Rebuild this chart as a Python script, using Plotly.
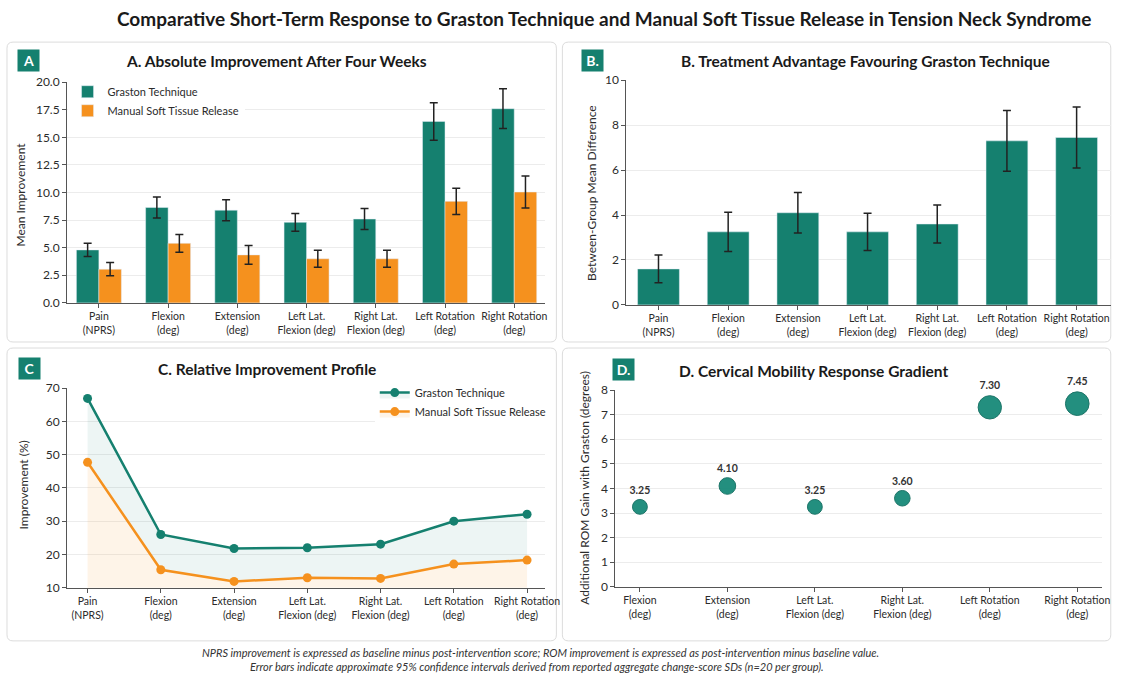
import plotly.graph_objects as go

# ---------------- data ----------------
categories = ["Pain<br>(NPRS)", "Flexion<br>(deg)", "Extension<br>(deg)",
              "Left Lat.<br>Flexion (deg)", "Right Lat.<br>Flexion (deg)",
              "Left Rotation<br>(deg)", "Right Rotation<br>(deg)"]
rom_categories = categories[1:]

graston_abs = [4.8, 8.65, 8.4, 7.3, 7.6, 16.45, 17.6]
graston_abs_ci = [0.6, 0.95, 0.95, 0.8, 0.95, 1.7, 1.8]
mstr_abs = [3.05, 5.4, 4.35, 4.0, 4.0, 9.2, 10.05]
mstr_abs_ci = [0.6, 0.8, 0.85, 0.78, 0.78, 1.2, 1.45]

diff = [1.6, 3.25, 4.1, 3.25, 3.6, 7.3, 7.45]
diff_ci = [0.62, 0.87, 0.9, 0.83, 0.85, 1.35, 1.36]

graston_pct = [66.9, 26.0, 21.8, 22.0, 23.1, 30.0, 32.1]
mstr_pct = [47.7, 15.4, 11.9, 13.0, 12.8, 17.1, 18.3]

rom_gain = [3.25, 4.10, 3.25, 3.60, 7.30, 7.45]
rom_labels = [f"{v:.2f}" for v in rom_gain]

# ---------------- style ----------------
W, H = 1126, 679
TEAL = "#15806f"
ORANGE = "#f5911e"
FONT = "Lato"
TXT = "#2b2b2b"
GRID = "#ececec"
AXIS = "#555555"


def wx(t):
    """target image x -> window pixel x (compensates the photo's scaling)"""
    return min(max((t - 1) / 0.986, 0), W)


def wy(t):
    return min(max((t - 8) / 0.975, 0), H)


def px(t):
    return wx(t) / W


def py(t):
    return 1 - wy(t) / H


def pyw(w):
    return 1 - w / H


fig = go.Figure()

fig.add_trace(go.Bar(x=categories, y=graston_abs, name="Graston Technique",
                     marker_color=TEAL, xaxis="x", yaxis="y", legend="legend",
                     error_y=dict(type="data", array=graston_abs_ci, color="#222",
                                  thickness=1.5, width=4)))
fig.add_trace(go.Bar(x=categories, y=mstr_abs, name="Manual Soft Tissue Release",
                     marker_color=ORANGE, xaxis="x", yaxis="y", legend="legend",
                     error_y=dict(type="data", array=mstr_abs_ci, color="#222",
                                  thickness=1.5, width=4)))

fig.add_trace(go.Bar(x=categories, y=diff, marker_color=TEAL, width=0.6,
                     showlegend=False, xaxis="x2", yaxis="y2",
                     error_y=dict(type="data", array=diff_ci, color="#222",
                                  thickness=1.5, width=4)))

fig.add_trace(go.Scatter(x=categories, y=mstr_pct, name="Manual Soft Tissue Release",
                         mode="lines+markers", line=dict(color=ORANGE, width=2.5),
                         marker=dict(size=9, color=ORANGE), fill="tozeroy",
                         fillcolor="rgba(245,145,30,0.10)", legendrank=2,
                         xaxis="x3", yaxis="y3", legend="legend2"))
fig.add_trace(go.Scatter(x=categories, y=graston_pct, name="Graston Technique",
                         mode="lines+markers", line=dict(color=TEAL, width=2.5),
                         marker=dict(size=9, color=TEAL), fill="tonexty",
                         fillcolor="rgba(21,128,111,0.08)", legendrank=1,
                         xaxis="x3", yaxis="y3", legend="legend2"))

fig.add_trace(go.Scatter(x=rom_categories, y=rom_gain, mode="markers+text",
                         text=rom_labels, textposition="top center",
                         textfont=dict(size=10.5, color="#333", family=FONT, weight="bold"),
                         marker=dict(size=[8 + 2.1 * v for v in rom_gain], color="#188a79",
                                     line=dict(color="#126e61", width=1), opacity=0.95),
                         cliponaxis=False, showlegend=False, xaxis="x4", yaxis="y4"))

xcommon = dict(type="category", showgrid=False, showline=True, linecolor=AXIS,
               linewidth=1, ticks="outside", ticklen=4, tickcolor=AXIS,
               tickfont=dict(size=10.5, color=TXT, family=FONT), fixedrange=True)
ycommon = dict(showgrid=True, gridcolor=GRID, gridwidth=1, showline=True,
               linecolor=AXIS, linewidth=1, ticks="outside", ticklen=4,
               tickcolor=AXIS, zeroline=False,
               tickfont=dict(size=12, color=TXT, family=FONT))

fig.update_layout(
    width=W, height=H,
    paper_bgcolor="white", plot_bgcolor="white",
    margin=dict(l=0, r=0, t=0, b=0),
    font=dict(family=FONT, color=TXT),
    barmode="group", bargap=0.35, bargroupgap=0,
    xaxis=dict(domain=[px(68), px(546)], range=[-0.46, 6.45], anchor="y", **xcommon),
    yaxis=dict(domain=[py(302), py(82)], range=[0, 20], dtick=2.5, tickformat=".1f",
               anchor="x", **ycommon),
    xaxis2=dict(domain=[px(627), px(1111)], range=[-0.46, 6.49], anchor="y2", **xcommon),
    yaxis2=dict(domain=[py(304), py(80)], range=[0, 10], dtick=2, anchor="x2", **ycommon),
    xaxis3=dict(domain=[px(68), px(546)], range=[-0.28, 6.25], anchor="y3", **xcommon),
    yaxis3=dict(domain=[py(586), py(387)], range=[10, 70], dtick=10, anchor="x3", **ycommon),
    xaxis4=dict(domain=[px(616), px(1102)], range=[-0.28, 5.28], anchor="y4", **xcommon),
    yaxis4=dict(domain=[py(585), py(389)], range=[0, 8], dtick=1, anchor="x4", **ycommon),
    legend=dict(x=px(68.5), y=py(77), xanchor="left", yanchor="top", bgcolor="white",
                font=dict(size=11, color=TXT, family=FONT), tracegroupgap=0),
    legend2=dict(x=px(375.5), y=py(377), xanchor="left", yanchor="top", bgcolor="white",
                 traceorder="normal",
                 font=dict(size=11, color=TXT, family=FONT), tracegroupgap=0),
)


def rounded_box(x0, y0, x1, y1, r=6):
    X = lambda v: f"{px(v):.5f}"
    Y = lambda v: f"{py(v):.5f}"
    return (f"M {X(x0 + r)} {Y(y0)} L {X(x1 - r)} {Y(y0)} Q {X(x1)} {Y(y0)} {X(x1)} {Y(y0 + r)} "
            f"L {X(x1)} {Y(y1 - r)} Q {X(x1)} {Y(y1)} {X(x1 - r)} {Y(y1)} "
            f"L {X(x0 + r)} {Y(y1)} Q {X(x0)} {Y(y1)} {X(x0)} {Y(y1 - r)} "
            f"L {X(x0)} {Y(y0 + r)} Q {X(x0)} {Y(y0)} {X(x0 + r)} {Y(y0)} Z")


shapes = []
for (x0, y0, x1, y1) in [(8, 42, 557, 341), (563, 42, 1111, 341),
                         (8, 347, 557, 639), (563, 347, 1111, 639)]:
    shapes.append(dict(type="path", path=rounded_box(x0, y0, x1, y1), xref="paper",
                       yref="paper", line=dict(color="#dcdcdc", width=1), layer="below"))
fig.update_layout(shapes=shapes)

ann = []
ann.append(dict(x=px(605), y=py(18), text="<b>Comparative Short-Term Response to Graston Technique and Manual Soft Tissue Release in Tension Neck Syndrome</b>",
                font=dict(size=19, color="#1a1a1a", family=FONT)))
for cx, cy, t in [(277, 61, "A. Absolute Improvement After Four Weeks"),
                  (866, 61, "B. Treatment Advantage Favouring Graston Technique"),
                  (268, 368, "C. Relative Improvement Profile"),
                  (814, 370, "D. Cervical Mobility Response Gradient")]:
    ann.append(dict(x=px(cx), y=py(cy), text=f"<b>{t}</b>",
                    font=dict(size=15.5, color="#1a1a1a", family=FONT)))
for cx, cy, t in [(29.5, 60, "A"), (593, 60, "B."), (30, 367, "C"), (624.5, 368, "D.")]:
    ann.append(dict(x=px(cx), y=py(cy), text=f"<b>{t}</b>", bgcolor=TEAL,
                    width=19, height=19, align="center", valign="middle",
                    font=dict(size=14, color="white", family=FONT)))
for cx, cy, t in [(22, 194, "Mean Improvement"),
                  (592, 192, "Between-Group Mean Difference"),
                  (24, 484, "Improvement (%)"),
                  (585, 486, "Additional ROM Gain with Graston (degrees)")]:
    ann.append(dict(x=px(cx), y=py(cy), text=t, textangle=-90,
                    font=dict(size=12, color=TXT, family=FONT)))
ann.append(dict(x=px(541), y=pyw(659),
                text="NPRS improvement is expressed as baseline minus post-intervention score; ROM improvement is expressed as post-intervention minus baseline value.",
                font=dict(size=11, color="#333", family=FONT, style="italic")))
ann.append(dict(x=px(538), y=pyw(673),
                text="Error bars indicate approximate 95% confidence intervals derived from reported aggregate change-score SDs (n=20 per group).",
                font=dict(size=11, color="#333", family=FONT, style="italic")))

for a in ann:
    a.update(xref="paper", yref="paper", showarrow=False,
             xanchor=a.get("xanchor", "center"), yanchor=a.get("yanchor", "middle"))
fig.update_layout(annotations=ann)

fig.write_html("out.html", config={"displayModeBar": False},
               post_script="document.body.style.margin='0px';")
